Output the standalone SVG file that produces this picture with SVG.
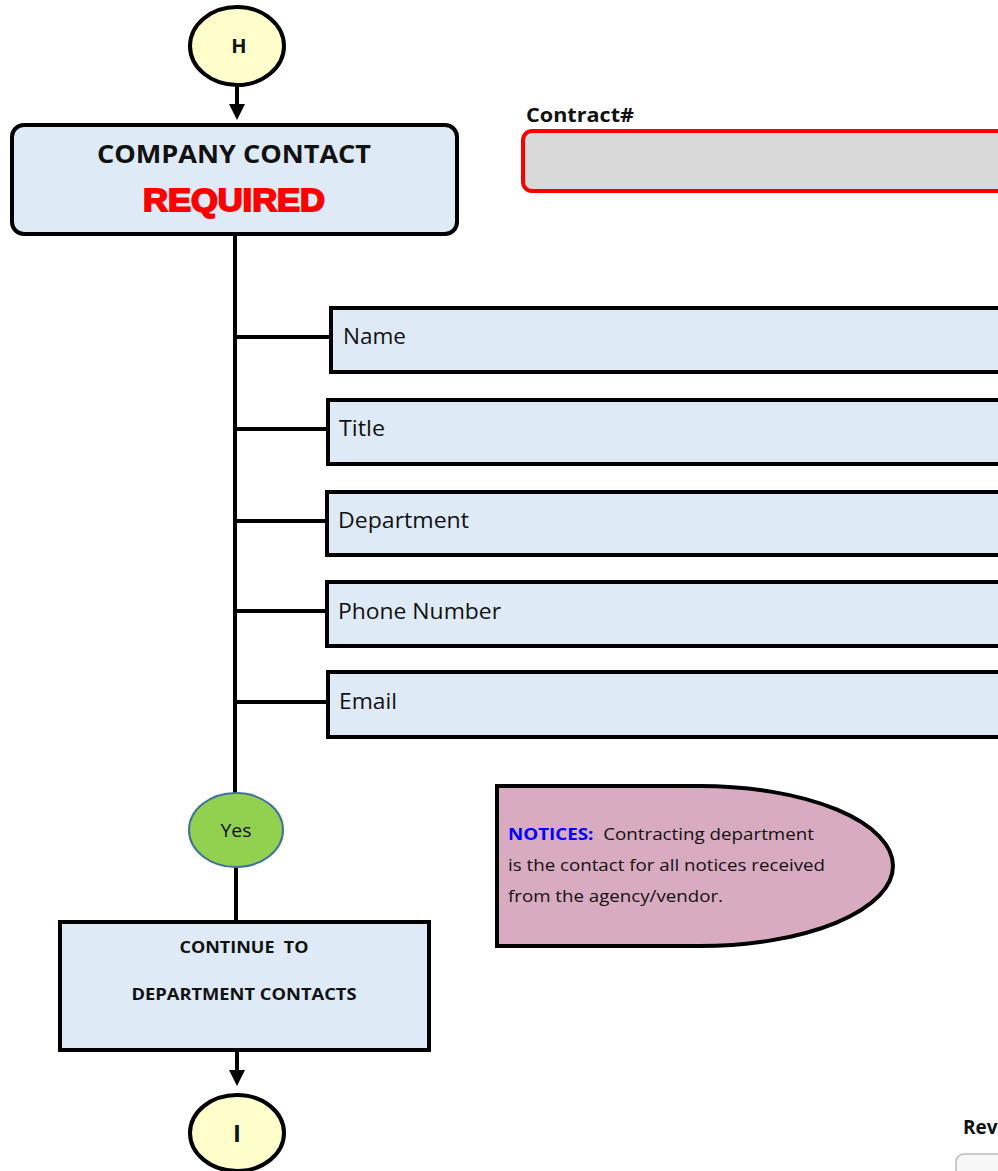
<svg xmlns="http://www.w3.org/2000/svg" width="998" height="1171" viewBox="0 0 998 1171">
<style>
.ln{stroke:#000;stroke-width:4;fill:none}
.box{fill:#deeaf6;stroke:#000;stroke-width:4}
.conn{fill:#ffffcc;stroke:#000;stroke-width:4}
.t{font-family:"Open Sans","Noto Sans","Liberation Sans",sans-serif;fill:#111}
.b{font-weight:bold}
.f{font-size:21px}
</style>
<defs>
<marker id="ah" markerWidth="4" markerHeight="4" refX="3" refY="2" orient="auto" markerUnits="strokeWidth">
<path d="M0,0 L4,2 L0,4 Z" fill="#000"/>
</marker>
</defs>
<g id="connectors">
<line class="ln" x1="237" y1="86" x2="237" y2="116" marker-end="url(#ah)"/>
<line class="ln" x1="235" y1="234" x2="235" y2="796"/>
<line class="ln" x1="235" y1="337" x2="331" y2="337"/>
<line class="ln" x1="235" y1="429" x2="328" y2="429"/>
<line class="ln" x1="235" y1="521" x2="327" y2="521"/>
<line class="ln" x1="235" y1="611" x2="327" y2="611"/>
<line class="ln" x1="235" y1="702" x2="328" y2="702"/>
<line class="ln" x1="236" y1="866" x2="236" y2="922"/>
<line class="ln" x1="237" y1="1050" x2="237" y2="1082" marker-end="url(#ah)"/>
</g>
<g id="node-H">
<ellipse class="conn" cx="237" cy="46" rx="47" ry="39"/>
<text class="t b" x="239" y="53" font-size="20" text-anchor="middle">H</text>
</g>
<g id="node-company">
<rect class="box" x="12" y="125" width="445" height="109" rx="12"/>
<text class="t b" x="234" y="163" font-size="25" text-anchor="middle" textLength="274" lengthAdjust="spacingAndGlyphs">COMPANY CONTACT</text>
<text x="234" y="211" font-family="'Liberation Sans',Arial,sans-serif" font-weight="bold" font-size="31" fill="#ff0000" stroke="#ff0000" stroke-width="1.8" text-anchor="middle" textLength="182" lengthAdjust="spacingAndGlyphs">REQUIRED</text>
</g>
<g id="node-contract">
<text class="t b" x="526" y="122" font-size="19" textLength="108" lengthAdjust="spacingAndGlyphs">Contract#</text>
<rect x="523" y="131" width="500" height="60" rx="9" fill="#d9d9d9" stroke="#ff0000" stroke-width="4"/>
</g>
<g id="node-name">
<rect class="box" x="331" y="308" width="700" height="64"/>
<text class="t f" x="343" y="344" textLength="63" lengthAdjust="spacingAndGlyphs">Name</text>
</g>
<g id="node-title">
<rect class="box" x="328" y="400" width="700" height="64"/>
<text class="t f" x="339" y="436" textLength="46" lengthAdjust="spacingAndGlyphs">Title</text>
</g>
<g id="node-department">
<rect class="box" x="327" y="492" width="700" height="63"/>
<text class="t f" x="338" y="528" textLength="131" lengthAdjust="spacingAndGlyphs">Department</text>
</g>
<g id="node-phone">
<rect class="box" x="327" y="582" width="700" height="64"/>
<text class="t f" x="338" y="619" textLength="163" lengthAdjust="spacingAndGlyphs">Phone Number</text>
</g>
<g id="node-email">
<rect class="box" x="328" y="672" width="700" height="65"/>
<text class="t f" x="339" y="709" textLength="58" lengthAdjust="spacingAndGlyphs">Email</text>
</g>
<g id="node-yes">
<ellipse cx="236" cy="830" rx="47" ry="37" fill="#92d050" stroke="#41719c" stroke-width="2"/>
<text class="t" x="236" y="837" font-size="18" text-anchor="middle" fill="#1a2a10" textLength="31" lengthAdjust="spacingAndGlyphs">Yes</text>
</g>
<g id="node-continue">
<rect class="box" x="60" y="922" width="369" height="128"/>
<text class="t b" x="244" y="953" font-size="16.5" text-anchor="middle" textLength="129" lengthAdjust="spacingAndGlyphs" xml:space="preserve">CONTINUE  TO</text>
<text class="t b" x="244" y="1000" font-size="16.5" text-anchor="middle" textLength="225" lengthAdjust="spacingAndGlyphs">DEPARTMENT CONTACTS</text>
</g>
<g id="node-I">
<ellipse class="conn" cx="237" cy="1133" rx="47" ry="38"/>
<text class="t b" x="237" y="1142" font-size="24" text-anchor="middle">I</text>
</g>
<g id="node-notices">
<path d="M497,786 L700,786 A193,80 0 0 1 700,946 L497,946 Z" fill="#d8abc1" stroke="#000" stroke-width="4"/>
<text class="t" x="508" y="840" font-size="16.5" textLength="306" lengthAdjust="spacingAndGlyphs" xml:space="preserve"><tspan fill="#0000ff" font-weight="bold">NOTICES:</tspan>  Contracting department</text>
<text class="t" x="508" y="871" font-size="16.5" textLength="317" lengthAdjust="spacingAndGlyphs">is the contact for all notices received</text>
<text class="t" x="508" y="902" font-size="16.5" textLength="215" lengthAdjust="spacingAndGlyphs">from the agency/vendor.</text>
</g>
<g id="node-rev">
<text class="t b" x="963" y="1134" font-size="19">Rev</text>
<rect x="956" y="1154" width="80" height="40" rx="8" fill="#f7f7f7" stroke="#bbbbbb" stroke-width="1.5"/>
</g>
</svg>
